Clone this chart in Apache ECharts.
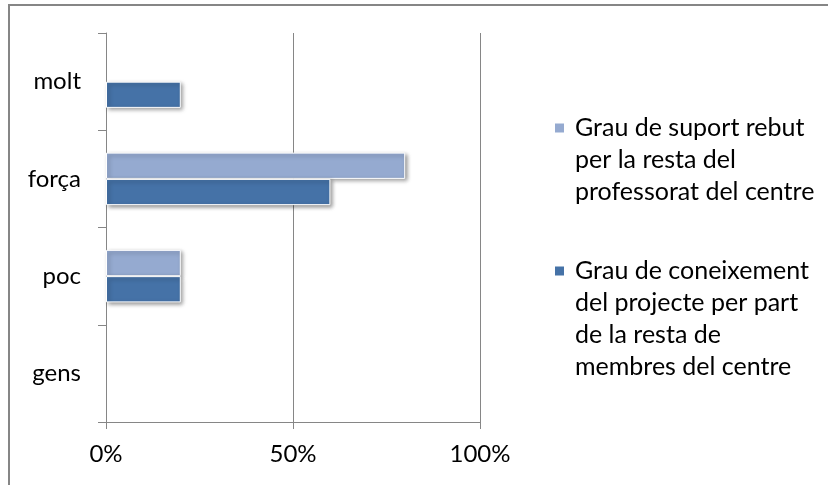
<!DOCTYPE html>
<html>
<head>
<meta charset="utf-8">
<script src="https://cdn.jsdelivr.net/npm/echarts@6/dist/echarts.min.js"></script>
<style>
  html, body { margin: 0; padding: 0; background: #fff; }
  #chart { width: 828px; height: 485px; }
</style>
</head>
<body>
<div id="chart"></div>
<script>
// categories, bottom to top
var categories = ["gens", "poc", "força", "molt"];
var suportName = "Grau de suport rebut per la resta del professorat del centre";
var coneixementName = "Grau de coneixement del projecte per part de la resta de membres del centre";
var suportValues = [0, 20, 80, 0];
var coneixementValues = [0, 20, 60, 20];
var xTicks = [0, 50, 100];
// legend text split into lines as in the picture
var suportLines = ["Grau de suport rebut", "per la resta del", "professorat del centre"];
var coneixementLines = ["Grau de coneixement", "del projecte per part", "de la resta de", "membres del centre"];

var FONT = "Lato";
var GRAY = "#868686";

var legendLines = {};
legendLines[suportName] = suportLines;
legendLines[coneixementName] = coneixementLines;

// legend text is centred on the icon, so pad with empty lines above
// to put the icon next to the first line
function legendText(name) {
  var lines = legendLines[name];
  var pad = [];
  for (var i = 1; i < lines.length; i++) pad.push("");
  return pad.concat(lines).join("\n");
}

var barStyle = {
  borderColor: "#fff",
  borderWidth: 1,
  shadowColor: "rgba(0,0,0,0.4)",
  shadowBlur: 4,
  shadowOffsetX: 2,
  shadowOffsetY: 2
};

// zero bars: hide the border/shadow sliver
function barData(values) {
  return values.map(function (v) {
    return v === 0 ? { value: v, itemStyle: { opacity: 0 } } : v;
  });
}

var myChart = echarts.init(document.getElementById("chart"));
var option = {
  animation: false,
  textStyle: { fontFamily: FONT },
  graphic: [{
    type: "rect",
    shape: { x: 9, y: 5, width: 900, height: 600 },
    style: { fill: "none", stroke: GRAY, lineWidth: 2 },
    silent: true
  }],
  grid: { left: 106, right: 348, top: 33, bottom: 63 },
  legend: {
    orient: "vertical",
    left: 555,
    top: 48,
    padding: 0,
    itemWidth: 15,
    itemHeight: 9,
    itemGap: -49,
    // 9x9 square plus blank space on its right
    icon: "path://M0,0h9v9h-9z M15,0",
    itemStyle: { shadowBlur: 0, shadowOffsetX: 0, shadowOffsetY: 0, borderWidth: 0 },
    data: [suportName, coneixementName],
    formatter: legendText,
    textStyle: { fontFamily: FONT, fontSize: 25, lineHeight: 32, color: "#000" }
  },
  xAxis: {
    type: "value",
    min: xTicks[0],
    max: xTicks[xTicks.length - 1],
    interval: xTicks[1] - xTicks[0],
    axisLine: { show: true, lineStyle: { color: GRAY, width: 1 } },
    axisTick: { show: true, length: 7, lineStyle: { color: GRAY } },
    splitLine: { show: true, lineStyle: { color: GRAY, width: 1 } },
    axisLabel: {
      formatter: "{value}%",
      margin: 20,
      fontFamily: FONT,
      fontSize: 24,
      color: "#000"
    }
  },
  yAxis: {
    type: "category",
    data: categories,
    axisLine: { show: true, lineStyle: { color: GRAY, width: 1 } },
    axisTick: { show: true, length: 8, lineStyle: { color: GRAY } },
    axisLabel: {
      margin: 25,
      fontFamily: FONT,
      fontSize: 24,
      color: "#000"
    }
  },
  series: [
    {
      name: suportName,
      type: "bar",
      data: barData(suportValues),
      barGap: "0%",
      barCategoryGap: "46%",
      itemStyle: Object.assign({ color: "#95AAD0" }, barStyle)
    },
    {
      name: coneixementName,
      type: "bar",
      data: barData(coneixementValues),
      barGap: "0%",
      barCategoryGap: "46%",
      itemStyle: Object.assign({ color: "#4572A7" }, barStyle)
    }
  ]
};
myChart.setOption(option);
</script>
</body>
</html>
